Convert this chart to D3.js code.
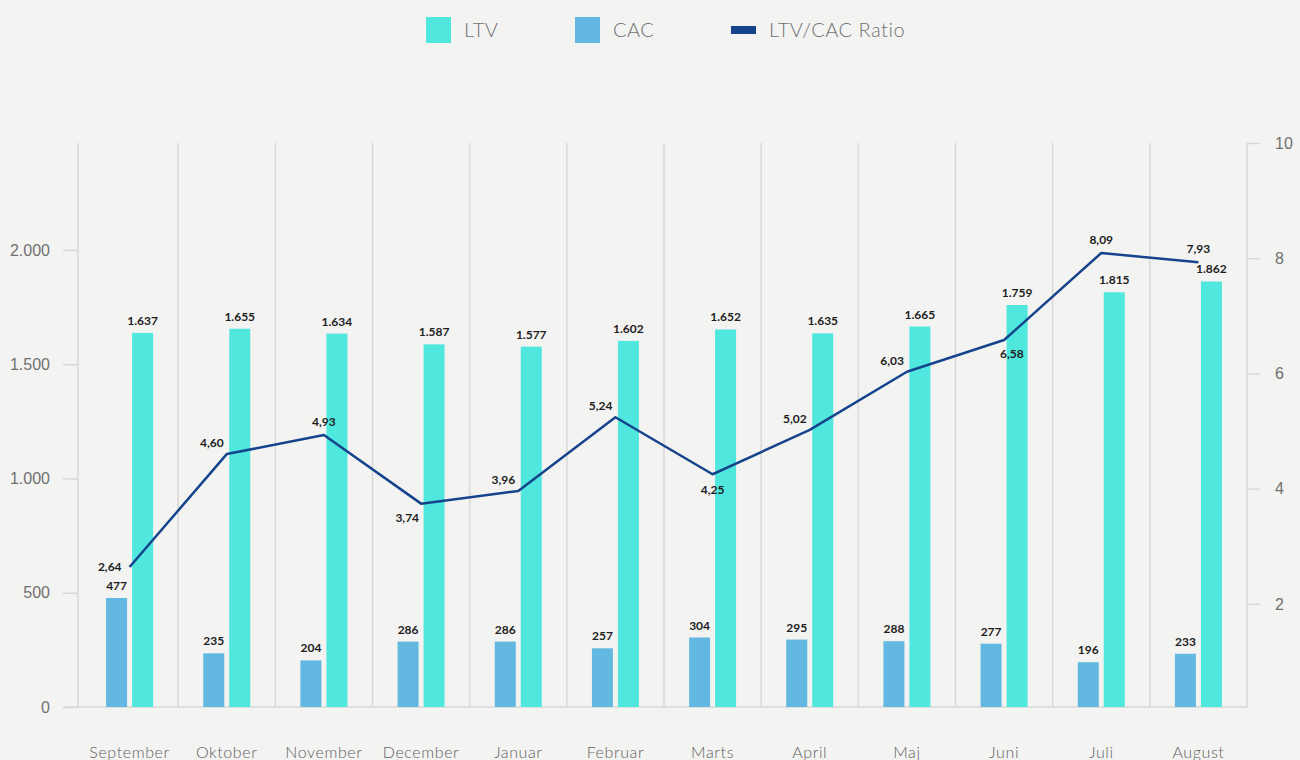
<!DOCTYPE html>
<html>
<head>
<meta charset="utf-8">
<script src="https://cdn.jsdelivr.net/npm/d3@7"></script>
<style>
  html, body { margin: 0; padding: 0; background: #f3f3f2; }
  svg { display: block; font-family: Lato, "Open Sans", sans-serif; }
  .grid line { stroke: #d8d8d8; stroke-width: 1.5; }
  .axis-text { fill: #707070; font-weight: 300; }
  .val { fill: #1e1e1e; font-weight: 700; font-size: 12px; }
</style>
</head>
<body>
<svg id="chart" width="1300" height="760"></svg>
<script>
// 数据
const months = ["September", "Oktober", "November", "December", "Januar", "Februar",
  "Marts", "April", "Maj", "Juni", "Juli", "August"];
const ltv = [1637, 1655, 1634, 1587, 1577, 1602, 1652, 1635, 1665, 1759, 1815, 1862];
const cac = [477, 235, 204, 286, 286, 257, 304, 295, 288, 277, 196, 233];
const ratio = [2.64, 4.60, 4.93, 3.74, 3.96, 5.24, 4.25, 5.02, 6.03, 6.58, 8.09, 7.93];
// 比率标签的对齐方式
const ratioAlign = ["left", "topleft", "top", "bottomleft", "topleft", "topleft",
  "bottom", "topleft", "topleft", "bottomright", "top", "top"];
const leftTicks = [0, 500, 1000, 1500, 2000];
const rightTicks = [2, 4, 6, 8, 10];

const colors = { ltv: "#50e8de", cac: "#62b8e0", ratio: "#15448c" };

const locale = d3.formatLocale({ decimal: ",", thousands: ".", grouping: [3], currency: ["", ""] });
const fmtInt = locale.format(",d");
const fmtRatio = locale.format(".2f");

const svg = d3.select("#chart");
const plot = { left: 81, right: 1247, top: 143, bottom: 707 };

const x = d3.scaleBand().domain(months).range([plot.left, plot.right]).padding(0);
const yL = d3.scaleLinear().domain([0, 2468]).range([plot.bottom, plot.top]);
const yR = d3.scaleLinear().domain([0.21, 10]).range([plot.bottom, plot.top]);

const barW = 21, gap = 5;
const cx = (m) => x(m) + x.bandwidth() / 2;

// 网格线
const grid = svg.append("g").attr("class", "grid");
grid.selectAll("line.v")
  .data(months.slice(1))
  .join("line")
  .attr("x1", (d) => x(d)).attr("x2", (d) => x(d))
  .attr("y1", plot.top).attr("y2", plot.bottom);
grid.append("line").attr("x1", 78).attr("x2", 78).attr("y1", plot.top).attr("y2", plot.bottom);
grid.append("line").attr("x1", plot.right).attr("x2", plot.right).attr("y1", plot.top).attr("y2", plot.bottom);
grid.append("line").attr("x1", 63).attr("x2", plot.right).attr("y1", plot.bottom).attr("y2", plot.bottom);

// 左轴
const yAxisL = svg.append("g")
  .attr("transform", "translate(78,0)")
  .call(d3.axisLeft(yL).tickValues(leftTicks).tickSize(15).tickPadding(13).tickFormat(fmtInt));
yAxisL.select(".domain").remove();
yAxisL.selectAll("line").attr("stroke", "#d8d8d8").attr("stroke-width", 1.5);
yAxisL.selectAll("text").attr("class", "axis-text").attr("font-size", 16).attr("font-family", null);

// 右轴
const yAxisR = svg.append("g")
  .attr("transform", `translate(${plot.right},0)`)
  .call(d3.axisRight(yR).tickValues(rightTicks).tickSize(13).tickPadding(15).tickFormat(d3.format("d")));
yAxisR.select(".domain").remove();
yAxisR.selectAll("line").attr("stroke", "#d8d8d8").attr("stroke-width", 1.5);
yAxisR.selectAll("text").attr("class", "axis-text").attr("font-size", 16).attr("font-family", null);

// X 轴标签
svg.append("g").selectAll("text")
  .data(months)
  .join("text")
  .attr("class", "axis-text")
  .attr("x", (d) => cx(d))
  .attr("y", 758)
  .attr("text-anchor", "middle")
  .attr("font-size", 16)
  .attr("letter-spacing", 0.6)
  .style("fill", "#606060")
  .text((d) => d);

// 柱子
svg.append("g").selectAll("rect")
  .data(months)
  .join("rect")
  .attr("x", (d) => cx(d) - gap / 2 - barW)
  .attr("y", (d, i) => yL(cac[i]))
  .attr("width", barW)
  .attr("height", (d, i) => plot.bottom - yL(cac[i]))
  .attr("fill", colors.cac);

svg.append("g").selectAll("rect")
  .data(months)
  .join("rect")
  .attr("x", (d) => cx(d) + gap / 2)
  .attr("y", (d, i) => yL(ltv[i]))
  .attr("width", barW)
  .attr("height", (d, i) => plot.bottom - yL(ltv[i]))
  .attr("fill", colors.ltv);

// 柱子数值标签
svg.append("g").selectAll("text")
  .data(months)
  .join("text")
  .attr("class", "val")
  .attr("x", (d) => cx(d) - gap / 2 - barW / 2)
  .attr("y", (d, i) => yL(cac[i]) - 8)
  .attr("text-anchor", "middle")
  .text((d, i) => fmtInt(cac[i]));

svg.append("g").selectAll("text")
  .data(months)
  .join("text")
  .attr("class", "val")
  .attr("x", (d) => cx(d) + gap / 2 + barW / 2)
  .attr("y", (d, i) => yL(ltv[i]) - 8)
  .attr("text-anchor", "middle")
  .text((d, i) => fmtInt(ltv[i]));

// 折线
const line = d3.line()
  .x((d, i) => cx(months[i]))
  .y((d) => yR(d));

svg.append("path")
  .datum(ratio)
  .attr("d", line)
  .attr("fill", "none")
  .attr("stroke", colors.ratio)
  .attr("stroke-width", 2.5)
  .attr("stroke-linejoin", "round");

// 折线标签
const offsets = {
  left: [-8, 4, "end"],
  topleft: [-3, -7, "end"],
  top: [0, -9, "middle"],
  bottom: [0, 20, "middle"],
  bottomleft: [-2, 18, "end"],
  bottomright: [-4, 18, "start"],
};
svg.append("g").selectAll("text")
  .data(ratio)
  .join("text")
  .attr("class", "val")
  .attr("x", (d, i) => cx(months[i]) + offsets[ratioAlign[i]][0])
  .attr("y", (d, i) => yR(d) + offsets[ratioAlign[i]][1])
  .attr("text-anchor", (d, i) => offsets[ratioAlign[i]][2])
  .text((d) => fmtRatio(d));

// 图例
const legendItems = [
  { name: "LTV", type: "box", color: colors.ltv, x: 426 },
  { name: "CAC", type: "box", color: colors.cac, x: 575 },
  { name: "LTV/CAC Ratio", type: "line", color: colors.ratio, x: 731 },
];
const legend = svg.append("g").selectAll("g")
  .data(legendItems)
  .join("g")
  .attr("transform", (d) => `translate(${d.x},0)`);
legend.append("rect")
  .attr("x", 0)
  .attr("y", (d) => (d.type === "box" ? 17 : 26))
  .attr("width", 25)
  .attr("height", (d) => (d.type === "box" ? 26 : 8))
  .attr("fill", (d) => d.color);
legend.append("text")
  .attr("class", "axis-text")
  .attr("x", 38)
  .attr("y", 30)
  .attr("dy", "0.35em")
  .attr("font-size", 20)
  .attr("letter-spacing", 0.5)
  .text((d) => d.name);
</script>
</body>
</html>
